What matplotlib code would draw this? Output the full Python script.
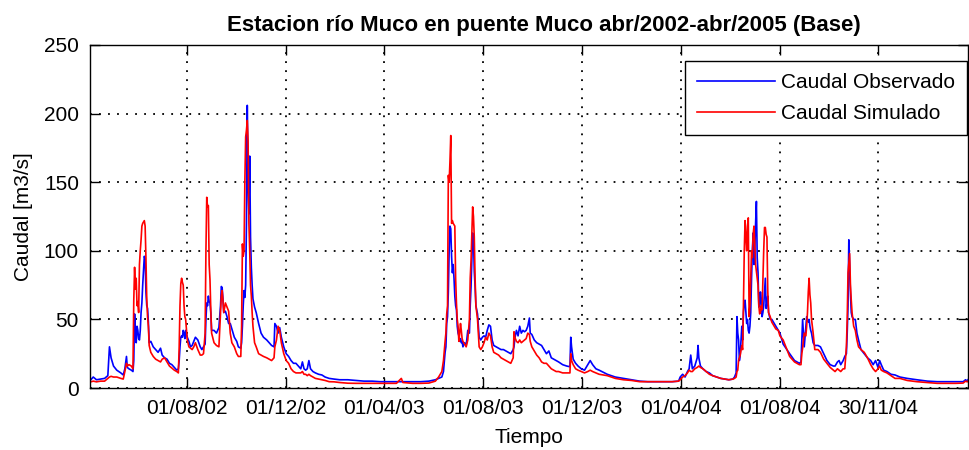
import numpy as np
import matplotlib
matplotlib.use("Agg")
import matplotlib.pyplot as plt
import matplotlib.dates as mdates

plt.rcParams['font.family'] = ['Liberation Sans', 'DejaVu Sans']

# dias desde 01/04/2002, caudal observado y simulado (m3/s)
inicio = np.datetime64('2002-04-01')
dias = [2, 3, 6, 10, 15, 20, 24, 26, 28, 31, 35, 40, 43, 45, 47, 48, 50, 53, 55,
        56, 57, 58, 59, 60, 61, 62, 63, 64, 65, 66, 67, 68, 69, 70, 71, 72, 73, 74, 75,
        77, 80, 83, 86, 89, 91, 94, 97, 100, 103, 106, 109, 111, 112, 113, 114, 115,
        116, 117, 118, 119, 120, 122, 124, 126, 128, 130, 132, 135, 138, 140, 142, 144,
        145, 146, 147, 148, 149, 150, 151, 152, 155, 158, 161, 163, 164, 165, 166, 167,
        169, 171, 173, 175, 177, 180, 183, 185, 188, 189, 190, 191, 192, 193, 194, 195,
        196, 197, 198, 199, 200, 201, 202, 203, 205, 207, 210, 213, 216, 220, 223, 226,
        229, 230, 232, 234, 236, 238, 241, 244, 247, 250, 253, 256, 259, 262, 264, 266,
        268, 270, 272, 274, 277, 280, 284, 288, 292, 297, 303, 310, 320, 330, 340, 350,
        360, 370, 380, 386, 388, 400, 410, 420, 428, 432, 436, 438, 440, 441, 442, 443,
        444, 445, 446, 447, 448, 449, 450, 451, 452, 453, 454, 455, 456, 457, 458, 459,
        460, 461, 462, 464, 466, 468, 470, 471, 472, 474, 475, 476, 477, 478, 480, 482,
        484, 486, 488, 490, 492, 494, 496, 498, 500, 503, 506, 509, 512, 515, 518, 521,
        524, 525, 526, 528, 530, 532, 534, 536, 538, 540, 542, 544, 545, 547, 550, 553,
        556, 559, 562, 565, 568, 571, 574, 577, 580, 585, 590, 594, 595, 596, 598, 601,
        604, 608, 612, 616, 619, 622, 626, 630, 640, 650, 660, 670, 680, 690, 700, 710,
        720, 728, 730, 733, 736, 739, 741, 743, 745, 748, 751, 752, 753, 755, 758, 762,
        766, 770, 775, 780, 785, 790, 795, 797, 799, 800, 801, 802, 803, 804, 806, 807,
        808, 809, 810, 811, 812, 813, 814, 815, 816, 817, 818, 819, 820, 821, 822, 823,
        824, 825, 826, 827, 828, 829, 830, 831, 832, 833, 834, 835, 836, 837, 838, 839,
        841, 843, 845, 848, 851, 853, 857, 865, 871, 877, 879, 880, 881, 882, 883, 885,
        886, 887, 888, 889, 890, 891, 892, 894, 896, 900, 903, 907, 911, 915, 919, 921,
        924, 926, 928, 931, 933, 935, 936, 937, 938, 939, 940, 941, 942, 944, 946, 948,
        950, 953, 957, 961, 965, 968, 971, 974, 976, 978, 981, 985, 990, 995, 1001,
        1010, 1022, 1035, 1047, 1060, 1070, 1079, 1082, 1084, 1085]

observado = [7, 6, 8, 6, 6.5, 7, 9, 30, 22, 16, 13, 11, 9.5, 14, 23, 15, 14, 13, 12,
             20, 54, 40, 33, 45, 42, 36, 35, 42, 55, 62, 75, 85, 96, 94, 70, 60, 58, 48, 33,
             34, 30, 28, 26, 29, 24, 22, 21, 18, 17, 15, 13, 14, 20, 30, 37, 38,
             37, 42, 40, 36, 42, 37, 34, 30, 31, 34, 37, 35, 30, 28, 30, 32,
             50, 62, 60, 67, 63, 62, 55, 42, 42, 40, 44, 60, 74, 73, 65, 55,
             56, 52, 47, 47, 43, 37, 34, 30, 29, 33, 45, 60, 71, 66, 75, 120,
             206, 150, 127, 169, 110, 88, 75, 65, 59, 55, 47, 40, 37, 35, 33, 31,
             30, 47, 45, 40, 44, 37, 30, 25, 23, 20, 18, 18, 16, 14, 19, 14,
             13, 14, 20, 14, 12, 11, 10, 9.5, 8, 7, 6.5, 6, 6, 5.5, 5, 5,
             4.6, 4.6, 4.6, 4.6, 4.6, 4.6, 4.6, 5, 6, 7, 8, 12, 26, 30, 47, 52,
             70, 100, 118, 116, 96, 84, 90, 80, 67, 60, 57, 45, 40, 38, 34, 36,
             33, 34, 30, 33, 31, 42, 40, 60, 74, 113, 110, 85, 74, 60, 54, 37,
             35, 37, 38, 37, 42, 46, 45, 35, 31, 30, 29, 28, 28, 27, 26, 25,
             28, 30, 36, 42, 38, 45, 40, 42, 41, 42, 45, 51, 40, 39, 35, 33,
             32, 31, 28, 25, 27, 22, 21, 20, 19, 17, 16, 15.5, 37, 30, 21, 18,
             16, 14, 13, 17, 20, 17, 14, 13, 10, 8, 7, 6, 5, 4.6, 4.6, 4.6,
             4.6, 5, 8, 10, 8, 12, 14, 24, 14, 16, 22, 31, 22, 16, 14, 12,
             11, 9, 8, 7, 6.5, 6, 6.5, 8, 11, 52, 40, 35, 20, 24, 45, 35,
             55, 62, 64, 55, 47, 50, 42, 40, 45, 55, 80, 100, 113, 90, 100, 120,
             136, 95, 84, 59, 60, 70, 65, 52, 55, 60, 70, 80, 58, 62, 67, 55,
             50, 50, 48, 45, 42, 40, 32, 25, 20, 18, 19, 35, 50, 40, 30, 45,
             52, 50, 48, 50, 45, 42, 40, 33, 31, 31, 30, 25, 20, 17, 16, 16,
             19, 20, 17, 20, 23, 25, 40, 60, 108, 90, 69, 55, 52, 50, 50, 40,
             35, 28, 25, 22, 20, 17, 20, 15, 20, 17, 13, 12, 10, 9.5, 8,
             7, 6, 5, 4.6, 4.6, 4.6, 4.6, 6, 5, 6]

simulado = [5, 4.5, 5, 4.5, 5, 5, 7, 8, 8.5, 8, 8, 7, 6.5, 12, 18, 16, 17, 16, 14,
            64, 88, 72, 80, 60, 63, 55, 90, 100, 108, 118, 120, 121, 122, 118, 95, 65, 52, 45, 31,
            26, 23, 21, 20, 19, 21, 22, 19, 16, 14.5, 13, 12, 11, 30, 60, 76, 80,
            77, 75, 60, 52, 50, 35, 30, 29, 28, 30, 33, 28, 24, 24, 25, 40,
            100, 139, 132, 133, 90, 79, 57, 40, 33, 31, 30, 55, 67, 71, 64, 55,
            62, 59, 56, 40, 33, 30, 25, 23, 23, 45, 105, 96, 100, 150, 183, 188,
            195, 180, 120, 100, 75, 67, 55, 45, 33, 30, 25, 24, 23, 22, 21, 20,
            22, 30, 35, 45, 42, 33, 25, 20, 18, 14, 12, 11, 11, 11, 12, 10,
            10, 9, 10, 9, 8, 7, 6.5, 6, 5.5, 4.6, 4.5, 4, 3.5, 3.4, 3.4, 3.4,
            3.4, 3.4, 3.4, 7, 4, 3.4, 3.4, 3.6, 5, 8, 12, 20, 34, 40, 54, 60,
            155, 150, 165, 184, 120, 122, 120, 119, 118, 80, 62, 50, 45, 34, 40, 47,
            42, 36, 34, 32, 30, 35, 50, 80, 93, 132, 125, 110, 80, 60, 50, 30,
            28, 30, 33, 37, 35, 40, 38, 30, 26, 25, 24, 22, 21, 20, 19, 18,
            22, 41, 37, 34, 33, 35, 33, 34, 35, 36, 40, 39, 34, 30, 27, 24,
            22, 19, 18, 18, 16, 14, 13, 12, 12, 11, 11, 11, 25, 20, 17, 14,
            13, 12, 11, 12, 13, 12, 11, 10, 9, 7, 6, 5.5, 4.6, 4.6, 4.6, 4.6,
            4.6, 5, 6, 8, 9, 11, 13, 12, 12, 14, 15, 15.5, 16, 15, 14, 12,
            10, 9, 8, 7, 6.5, 6, 6.5, 7, 8, 12, 13, 20, 22, 24, 31, 28,
            60, 99, 122, 110, 100, 118, 124, 52, 60, 80, 100, 95, 112, 118, 105, 90,
            85, 80, 75, 60, 54, 55, 60, 57, 80, 100, 117, 117, 112, 110, 71, 55,
            52, 48, 46, 43, 42, 38, 35, 23, 19, 17, 17, 25, 29, 35, 40, 38,
            45, 55, 70, 80, 68, 62, 50, 40, 28, 28, 26, 21, 18, 15, 13, 12,
            14, 13, 12, 14, 14, 30, 50, 84, 91, 98, 75, 64, 55, 45, 42, 35,
            30, 28, 26, 22, 17, 14, 12, 14, 16, 13, 12, 11, 9, 7, 7,
            5.5, 4.6, 4, 3.4, 3.4, 3.4, 3.6, 5, 4.5, 5]

fechas_ticks = ['2002-08-01', '2002-12-01', '2003-04-01', '2003-08-01',
                '2003-12-01', '2004-04-01', '2004-08-01', '2004-11-30']
valores_y = [0, 50, 100, 150, 200, 250]

fechas = inicio + np.array(dias).astype('timedelta64[D]')

fig = plt.figure(figsize=(9.69, 4.5), dpi=100)
ax = fig.add_axes([90 / 969, 62 / 450, 878 / 969, 343 / 450])

ax.plot(fechas, observado, color='#0000ff', lw=1.2, label='Caudal Observado')
ax.plot(fechas, simulado, color='#ff0000', lw=1.2, label='Caudal Simulado')

ax.set_xlim(fechas[0], fechas[-1])
ax.set_ylim(0, 250)
ax.set_yticks(valores_y)
ax.set_xticks(np.array(fechas_ticks, dtype='datetime64[D]'))
ax.xaxis.set_major_formatter(mdates.DateFormatter('%d/%m/%y'))

ax.grid(True, color='black', linestyle=(0, (1, 4)), linewidth=1.3)
ax.tick_params(direction='in', length=7, width=1, top=True, right=True,
               labelsize=15, pad=8)
for s in ax.spines.values():
    s.set_linewidth(1.0)

ax.set_title('Estacion río Muco en puente Muco abr/2002-abr/2005 (Base)',
             fontsize=16, fontweight='bold', pad=10, x=0.517)
ax.set_xlabel('Tiempo', fontsize=15, labelpad=7)
ax.set_ylabel('Caudal [m3/s]', fontsize=15, labelpad=8)

leg = ax.legend(loc='upper right', bbox_to_anchor=(0.999, 0.953), borderaxespad=0,
                fontsize=15, fancybox=False, framealpha=1, edgecolor='black',
                handlelength=3.75, handletextpad=0.3, borderpad=0.58, labelspacing=0.58)
leg.get_frame().set_linewidth(1.0)

fig.savefig('out.png', dpi=100)
